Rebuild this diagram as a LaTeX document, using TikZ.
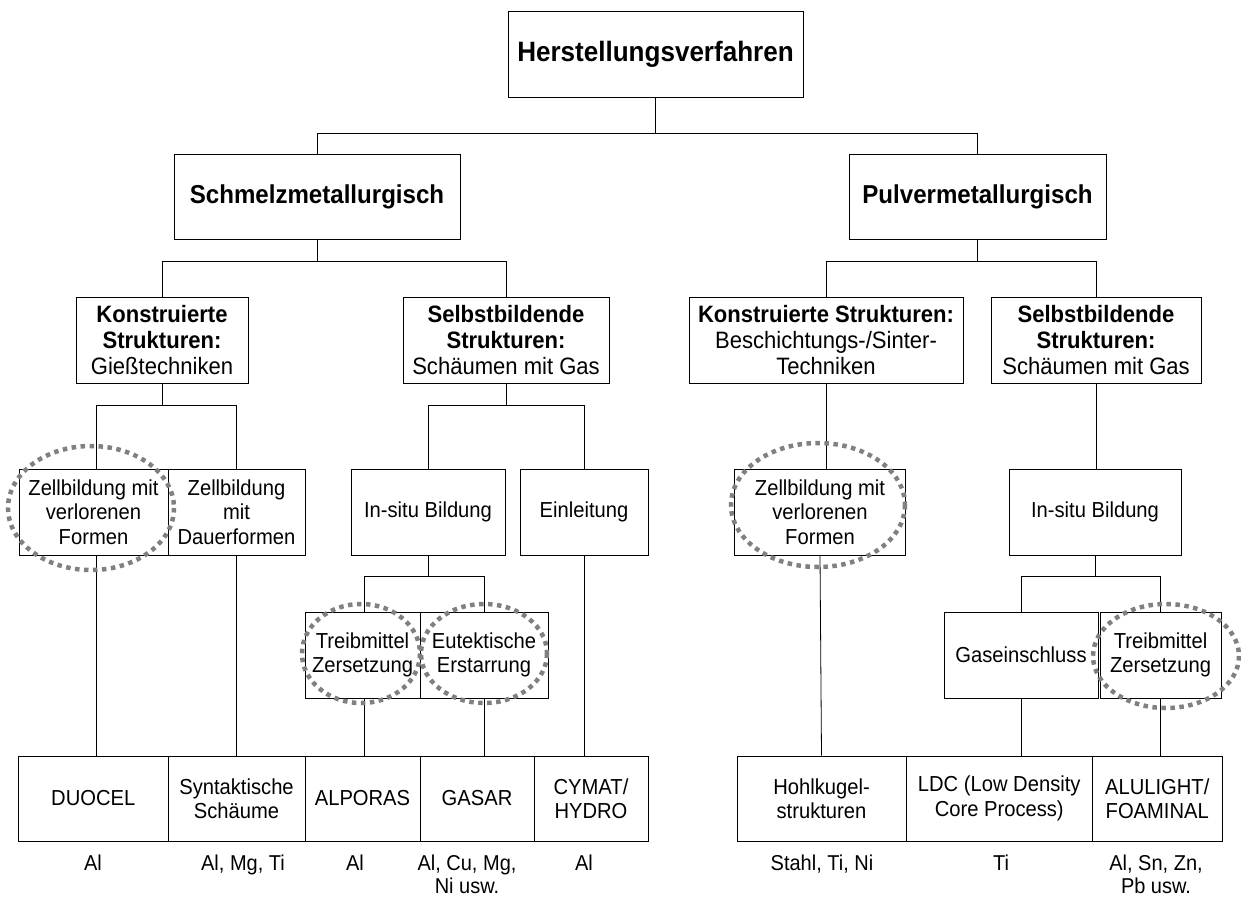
\documentclass[tikz,border=0pt]{standalone}
\usepackage{fontspec}
\setmainfont{Liberation Sans}[FakeStretch=0.93]
\definecolor{dotgray}{HTML}{808080}
\begin{document}
\begin{tikzpicture}[x=1pt,y=-1pt,
  box/.style={draw=black, line width=0.8pt, align=center, inner sep=0pt},
  wh/.style 2 args={minimum width=#1pt, minimum height=#2pt},
  ftop/.style={font=\fontsize{28}{30}\selectfont\bfseries},
  fsec/.style={font=\fontsize{25.9}{28}\selectfont\bfseries},
  fthree/.style={font=\fontsize{23.7}{26}\selectfont},
  fbody/.style={font=\fontsize{21.7}{24.3}\selectfont},
  lbl/.style={align=center, inner sep=0pt, anchor=north, font=\fontsize{21.5}{23}\selectfont},
  conn/.style={draw=black, line width=0.8pt},
  dotring/.style={draw=dotgray, line width=4.5pt, dash pattern=on 4.5pt off 4.5pt}]
\useasboundingbox (0,0) rectangle (1241,897);

% level 1
\node[box, ftop, wh={295}{86}] (top) at (655.5,54) {Herstellungsverfahren};
% level 2
\node[box, fsec, wh={286}{85}] (schmelz) at (317,196.5) {Schmelzmetallurgisch};
\node[box, fsec, wh={257}{85}] (pulver) at (977.5,196.5) {Pulvermetallurgisch};
% level 3
\node[box, fthree, wh={172}{86}] (ks1) at (162,340) {\textbf{Konstruierte}\\\textbf{Strukturen:}\\Gießtechniken};
\node[box, fthree, wh={206}{86}] (ss1) at (506,340) {\textbf{Selbstbildende}\\\textbf{Strukturen:}\\Schäumen mit Gas};
\node[box, fthree, wh={274}{86}] (ks2) at (826,340) {\textbf{Konstruierte Strukturen:}\\Beschichtungs-/Sinter-\\Techniken};
\node[box, fthree, wh={210}{86}] (ss2) at (1096,340) {\textbf{Selbstbildende}\\\textbf{Strukturen:}\\Schäumen mit Gas};
% level 4
\node[box, fbody, wh={149}{86}] (z1) at (93.5,512) {Zellbildung mit\\verlorenen\\Formen};
\node[box, fbody, wh={137}{86}] (z2) at (236.5,512) {Zellbildung\\mit\\Dauerformen};
\node[box, fbody, wh={154}{86}] (is1) at (428,512) {In-situ Bildung};
\node[box, fbody, wh={128}{86}] (ein) at (584,512) {Einleitung};
\node[box, fbody, wh={171}{86}] (z3) at (820,512) {Zellbildung mit\\verlorenen\\Formen};
\node[box, fbody, wh={172}{86}] (is2) at (1095,512) {In-situ Bildung};
% level 5
\node[box, fbody, wh={115}{86}] (t1) at (362.5,655) {Treibmittel\\Zersetzung};
\node[box, fbody, wh={128}{86}] (e1) at (484,655) {Eutektische\\Erstarrung};
\node[box, fbody, wh={154}{86}] (gas) at (1021,655) {Gaseinschluss};
\node[box, fbody, wh={121}{86}] (t2) at (1160.5,655) {Treibmittel\\Zersetzung};
% bottom row
\node[box, fbody, wh={149.4}{85}] (duocel) at (93.3,798.5) {DUOCEL};
\node[box, fbody, wh={137}{85}] (synt) at (236.5,798.5) {Syntaktische\\Schäume};
\node[box, fbody, wh={115}{85}] (alporas) at (362.5,798.5) {ALPORAS};
\node[box, fbody, wh={114}{85}] (gasar) at (477,798.5) {GASAR};
\node[box, fbody, wh={114}{85}] (cymat) at (591,798.5) {CYMAT/\\HYDRO};
\node[box, fbody, wh={169}{85}] (hohl) at (821.5,798.5) {Hohlkugel-\\strukturen};
\node[box, fbody, wh={186.5}{85}] (ldc) at (999.25,798.5) {LDC (Low Density\\Core Process)};
\node[box, fbody, wh={129.5}{85}] (alu) at (1157.25,798.5) {ALULIGHT/\\FOAMINAL};
% material labels
\node[lbl] (m1) at (93,855) {Al};
\node[lbl] (m2) at (243,855) {Al, Mg, Ti};
\node[lbl] (m3) at (355,855) {Al};
\node[lbl] (m4) at (467,855) {Al, Cu, Mg,\\Ni usw.};
\node[lbl] (m5) at (584,855) {Al};
\node[lbl] (m6) at (822,855) {Stahl, Ti, Ni};
\node[lbl] (m7) at (1001,855) {Ti};
\node[lbl] (m8) at (1156,855) {Al, Sn, Zn,\\Pb usw.};

% connectors
\coordinate (j0) at (655.5,133);
\draw[conn] (top.south) -- (j0);
\draw[conn] (j0) -| (schmelz.north);
\draw[conn] (j0) -| (pulver.north);

\coordinate (j1) at (317,261);
\draw[conn] (schmelz.south) -- (j1);
\draw[conn] (j1) -| (ks1.north);
\draw[conn] (j1) -| (ss1.north);
\coordinate (j2) at (977.5,261);
\draw[conn] (pulver.south) -- (j2);
\draw[conn] (j2) -| (ks2.north);
\draw[conn] (j2) -| (ss2.north);

\coordinate (j3) at (162,405);
\draw[conn] (ks1.south) -- (j3);
\draw[conn] (j3) -| ([xshift=2.5pt]z1.north);
\draw[conn] (j3) -| (z2.north);
\coordinate (j4) at (506,405);
\draw[conn] (ss1.south) -- (j4);
\draw[conn] (j4) -| (is1.north);
\draw[conn] (j4) -| (ein.north);
\draw[conn] (ks2.south) -- (ks2.south |- z3.north);
\draw[conn] (ss2.south) -- (ss2.south |- is2.north);

\coordinate (j5) at (428,576);
\draw[conn] (is1.south) -- (j5);
\draw[conn] (j5) -| ([xshift=1.5pt]t1.north);
\draw[conn] (j5) -| (e1.north);
\coordinate (j6) at (1095,576);
\draw[conn] (is2.south) -- (j6);
\draw[conn] (j6) -| (gas.north);
\draw[conn] (j6) -| (t2.north);

\draw[conn] ([xshift=2.5pt]z1.south) -- ([xshift=2.5pt]z1.south |- duocel.north);
\draw[conn] (z2.south) -- (z2.south |- synt.north);
\draw[conn] ([xshift=1.5pt]t1.south) -- ([xshift=1.5pt]t1.south |- alporas.north);
\draw[conn] (e1.south) -- (e1.south |- gasar.north);
\draw[conn] (ein.south) -- (ein.south |- cymat.north);
\draw[conn] (z3.south) -- (hohl.north);
\draw[conn] (gas.south) -- (gas.south |- ldc.north);
\draw[conn] (t2.south) -- (t2.south |- alu.north);

% dotted highlight rings
\draw[dotring] (91,508) ellipse [x radius=83, y radius=62];
\draw[dotring] (361,653.5) ellipse [x radius=59, y radius=49.5];
\draw[dotring] (484,653.5) ellipse [x radius=63, y radius=49.5];
\draw[dotring] (818,505) ellipse [x radius=87, y radius=62];
\draw[dotring] (1166,656) ellipse [x radius=73, y radius=52];
\end{tikzpicture}
\end{document}
